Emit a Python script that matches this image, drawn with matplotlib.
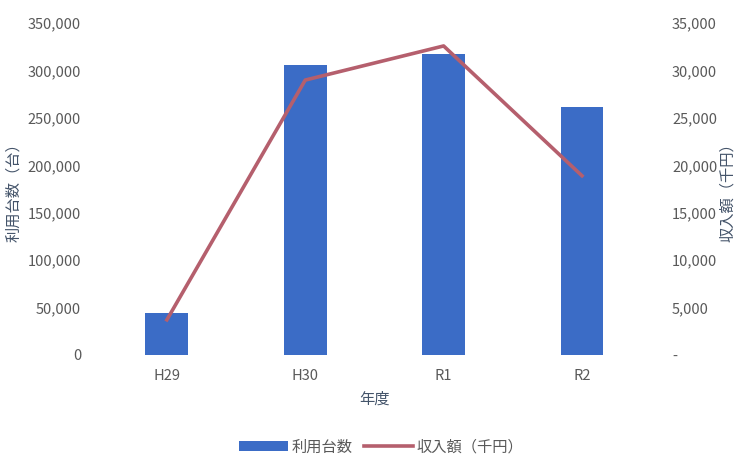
import matplotlib.pyplot as plt
from matplotlib.ticker import FuncFormatter

plt.rcParams['font.family'] = ['Noto Sans CJK JP', 'DejaVu Sans']

years = ["H29", "H30", "R1", "R2"]
units = [44000, 305500, 318000, 262000]      # 利用台数（台）
income = [3700, 29000, 32600, 18900]         # 収入額（千円）

bar_color = "#3b6cc6"
line_color = "#b55f6d"
tick_color = "#595959"
label_color = "#44546a"

fig = plt.figure(figsize=(7.4, 4.55), dpi=100)
ax = fig.add_axes([0.132, 0.22, 0.748, 0.729])
ax2 = ax.twinx()

x = range(len(years))
b = ax.bar(x, units, width=0.31, color=bar_color)
l, = ax2.plot(x, income, color=line_color, linewidth=2.6)

ax.set_xlim(-0.5, 3.5)
ax.set_ylim(0, 350000)
ax.set_yticks(range(0, 350001, 50000))
ax.yaxis.set_major_formatter(FuncFormatter(lambda v, p: f"{int(v):,}"))
ax2.set_ylim(0, 35000)
ax2.set_yticks(range(0, 35001, 5000))
ax2.yaxis.set_major_formatter(FuncFormatter(lambda v, p: "-" if v == 0 else f"{int(v):,}"))

ax.set_xticks(list(x))
ax.set_xticklabels(years)

for a in (ax, ax2):
    for s in a.spines.values():
        s.set_visible(False)
    a.tick_params(length=0, labelsize=10.5, labelcolor=tick_color)
ax.tick_params(axis='y', pad=12)
ax.tick_params(axis='x', pad=10)
ax2.tick_params(axis='y', pad=15)

ax.set_ylabel("利用台数（台）", color=label_color, fontsize=11, labelpad=4)
ax2.set_ylabel("収入額（千円）", color=label_color, fontsize=11, labelpad=1)
ax.set_xlabel("年度", color=label_color, fontsize=11, labelpad=6)

fig.legend([b, l], ["利用台数", "収入額（千円）"], loc="center", bbox_to_anchor=(0.515, 0.018),
           ncol=2, frameon=False, fontsize=11, labelcolor=tick_color,
           handlelength=3.2, handletextpad=0.2, columnspacing=0.8)

fig.savefig("out.png", dpi=100)
